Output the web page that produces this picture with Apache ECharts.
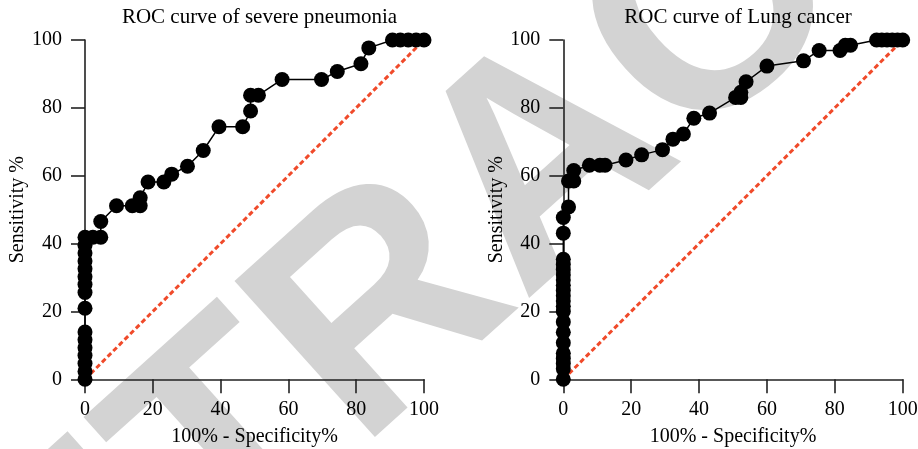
<!DOCTYPE html>
<html>
<head>
<meta charset="utf-8">
<script src="https://cdn.jsdelivr.net/npm/echarts@6/dist/echarts.min.js"></script>
<style>
  html, body { margin: 0; padding: 0; background: #fff; }
  #chart { width: 918px; height: 449px; }
</style>
</head>
<body>
<div id="chart"></div>
<script>
// ROC points (100% - specificity, sensitivity)
var pneuFpr = [0, 0, 0, 0, 0, 0, 0, 0, 0, 0, 0, 0, 0, 0, 0, 0,
  2.33, 4.65, 4.65, 9.30, 13.95, 16.28, 16.28, 18.60, 23.26, 25.58, 30.23, 34.88, 39.53,
  46.51, 48.84, 48.84, 51.16, 58.14, 69.77, 74.42, 81.40, 83.72, 90.70, 93.02, 95.35, 97.67, 100]
var pneuTpr = [0, 2.33, 4.65, 6.98, 9.30, 11.63, 13.95, 20.93, 25.58, 27.91, 30.23, 32.56, 34.88, 37.21, 39.53, 41.86,
  41.86, 41.86, 46.51, 51.16, 51.16, 51.16, 53.49, 58.14, 58.14, 60.47, 62.79, 67.44, 74.42,
  74.42, 79.07, 83.72, 83.72, 88.37, 88.37, 90.70, 93.02, 97.67, 100, 100, 100, 100, 100]

var lungFpr = [0, 0, 0, 0, 0, 0, 0, 0, 0, 0, 0, 0, 0, 0, 0, 0, 0, 0, 0, 0, 0,
  1.54, 1.54, 3.08, 3.08, 7.69, 10.77, 12.31, 18.46, 23.08, 29.23, 32.31, 35.38, 38.46, 43.08,
  50.77, 52.31, 52.31, 53.85, 60.00, 70.77, 75.38, 81.54, 83.08, 84.62, 92.31, 93.85, 95.38, 96.92, 98.46, 100]
var lungTpr = [0, 3.08, 4.62, 6.15, 7.69, 10.77, 13.85, 16.92, 20.00, 21.54, 23.08, 24.62, 26.15, 27.69, 29.23, 30.77, 32.31, 33.85, 35.38, 43.08, 47.69,
  50.77, 58.46, 58.46, 61.54, 63.08, 63.08, 63.08, 64.62, 66.15, 67.69, 70.77, 72.31, 76.92, 78.46,
  83.08, 83.08, 84.62, 87.69, 92.31, 93.85, 96.92, 96.92, 98.46, 98.46, 100, 100, 100, 100, 100, 100]

var refLine = [[0, 0], [100, 100]]
var axisTicks = [0, 20, 40, 60, 80, 100]

var titles = ['ROC curve of severe pneumonia', 'ROC curve of Lung cancer']
var xName = '100% - Specificity%'
var yName = 'Sensitivity %'

var serif = '"Liberation Serif", "Times New Roman", serif'

function pairs(xs, ys) {
  return xs.map(function(x, i) { return [x, ys[i]] })
}

var myChart = echarts.init(document.getElementById('chart'))

// fixed plot boxes, no auto shrinking for labels
var grids = [
  { left: 85, top: 40, width: 339, height: 339.3, outerBoundsMode: 'none', containLabel: false },
  { left: 563.3, top: 40, width: 339.4, height: 339.3, outerBoundsMode: 'none', containLabel: false }
]

function xAxisFor(i) {
  return {
    gridIndex: i,
    type: 'value',
    min: axisTicks[0],
    max: axisTicks[axisTicks.length - 1],
    interval: 20,
    name: xName,
    nameLocation: 'middle',
    nameGap: 47,
    nameTextStyle: { fontFamily: serif, fontSize: 20, color: '#000' },
    axisLine: { show: true, onZero: false, lineStyle: { color: '#222', width: 1.6 } },
    axisTick: { show: true, length: 14, lineStyle: { color: '#222', width: 1.6 } },
    axisLabel: { margin: 20, fontFamily: serif, fontSize: 20, color: '#000' },
    splitLine: { show: false }
  }
}

function yAxisFor(i) {
  return {
    gridIndex: i,
    type: 'value',
    min: axisTicks[0],
    max: axisTicks[axisTicks.length - 1],
    interval: 20,
    name: yName,
    nameLocation: 'middle',
    nameGap: 56,
    nameTextStyle: { fontFamily: serif, fontSize: 20, color: '#000' },
    axisLine: { show: true, onZero: false, lineStyle: { color: '#222', width: 1.6 } },
    axisTick: { show: true, length: 14, lineStyle: { color: '#222', width: 1.6 } },
    axisLabel: { margin: 23, fontFamily: serif, fontSize: 20, color: '#000' },
    splitLine: { show: false }
  }
}

function diagonal(i) {
  return {
    type: 'line',
    xAxisIndex: i,
    yAxisIndex: i,
    data: refLine,
    showSymbol: false,
    silent: true,
    z: 2,
    lineStyle: { color: '#f04a2a', width: 3, type: [5, 3] }
  }
}

function rocCurve(i, data) {
  return {
    type: 'line',
    xAxisIndex: i,
    yAxisIndex: i,
    data: data,
    symbol: 'circle',
    symbolSize: 15,
    z: 3,
    itemStyle: { color: '#000' },
    lineStyle: { color: '#000', width: 1.5 }
  }
}

var option = {
  animation: false,
  backgroundColor: '#fff',
  // grey diagonal watermark behind the plots
  graphic: [{
    type: 'text',
    x: 549,
    y: 167,
    rotation: 42 * Math.PI / 180,
    z: -10,
    silent: true,
    style: {
      text: 'RETRACTED',
      font: 'bold 305px "Liberation Sans", Arial, sans-serif',
      fill: '#d3d3d3',
      textAlign: 'center',
      textVerticalAlign: 'middle'
    }
  }],
  title: [
    {
      text: titles[0], left: 254.5, top: 2, textAlign: 'center',
      textStyle: { fontFamily: serif, fontSize: 21, fontWeight: 'normal', color: '#000' }
    },
    {
      text: titles[1], left: 733, top: 2, textAlign: 'center',
      textStyle: { fontFamily: serif, fontSize: 21, fontWeight: 'normal', color: '#000' }
    }
  ],
  grid: grids,
  xAxis: [xAxisFor(0), xAxisFor(1)],
  yAxis: [yAxisFor(0), yAxisFor(1)],
  series: [
    diagonal(0),
    rocCurve(0, pairs(pneuFpr, pneuTpr)),
    diagonal(1),
    rocCurve(1, pairs(lungFpr, lungTpr))
  ]
}

myChart.setOption(option)
</script>
</body>
</html>
